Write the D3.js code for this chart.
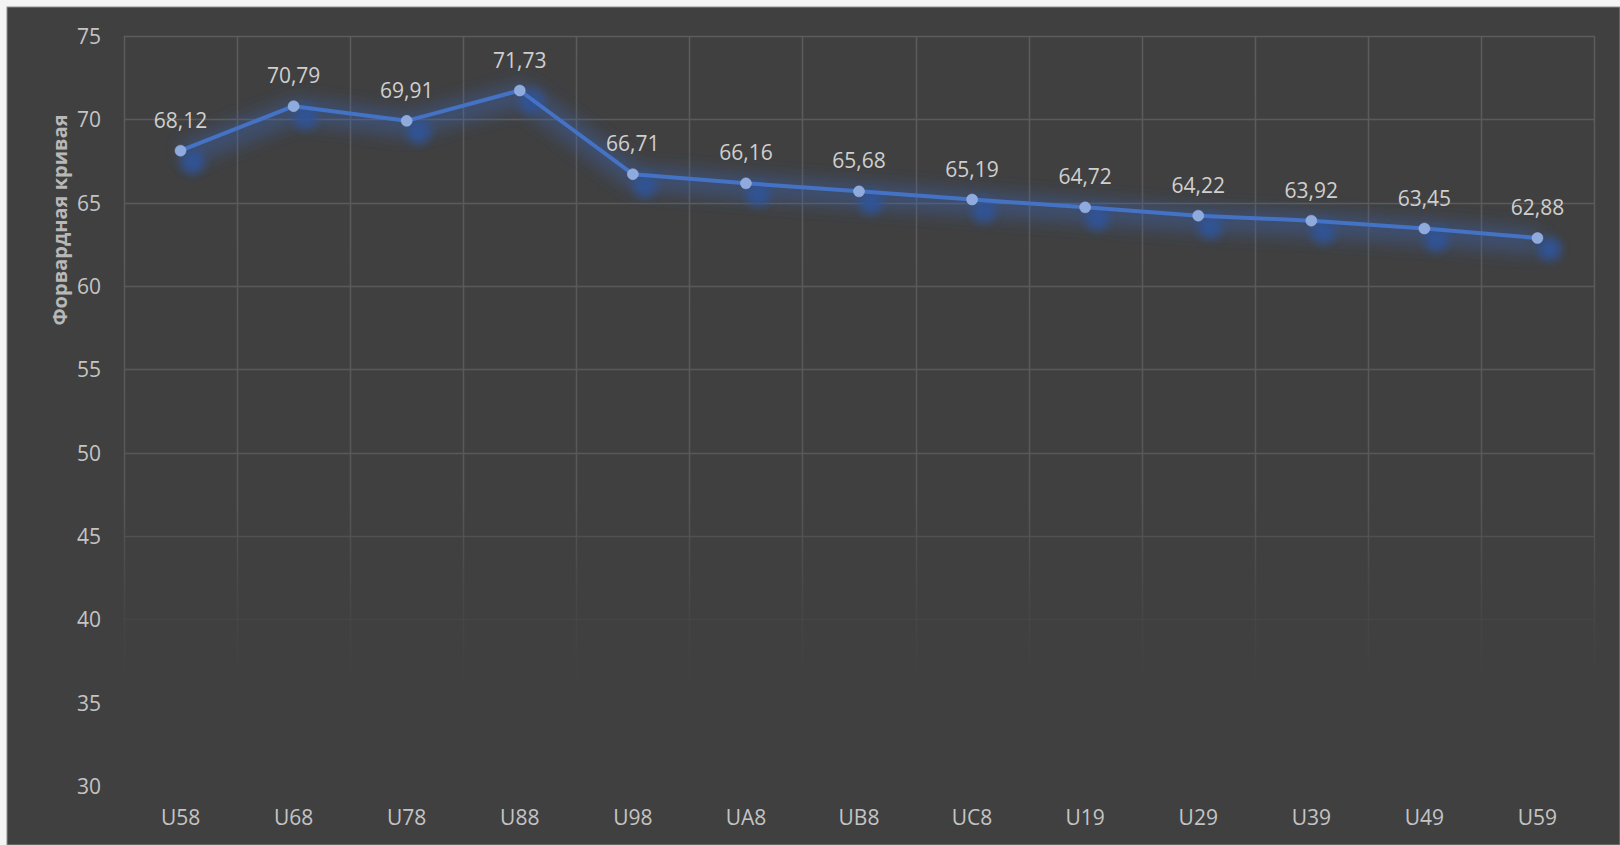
<!DOCTYPE html>
<html>
<head>
<meta charset="utf-8">
<script src="https://cdn.jsdelivr.net/npm/d3@7"></script>
<style>
  html, body { margin: 0; padding: 0; background: #ffffff; }
  svg { display: block; }
</style>
</head>
<body>
<svg id="chart" width="1620" height="845"></svg>
<script>
const categories = ["U58","U68","U78","U88","U98","UA8","UB8","UC8","U19","U29","U39","U49","U59"];
const values = [68.12, 70.79, 69.91, 71.73, 66.71, 66.16, 65.68, 65.19, 64.72, 64.22, 63.92, 63.45, 62.88];
const yTicks = [30, 35, 40, 45, 50, 55, 60, 65, 70, 75];
const yTitle = "Форвардная кривая";

const W = 1620, H = 845;
const plot = { left: 124, right: 1594, top: 36, bottom: 786 };

const svg = d3.select("#chart");
const defs = svg.append("defs");

// background
svg.append("rect").attr("x", 0).attr("y", 0).attr("width", W).attr("height", H).attr("fill", "#f4f4f4");
svg.append("rect").attr("x", 7).attr("y", 7).attr("width", W - 7).attr("height", H - 7)
  .attr("fill", "#404040").attr("stroke", "#8c8c8c").attr("stroke-width", 1);

const x = d3.scaleBand().domain(categories).range([plot.left, plot.right]).padding(0);
const y = d3.scaleLinear().domain([30, 75]).range([plot.bottom, plot.top]);

// grid gradient (fades toward the bottom)
const grad = defs.append("linearGradient").attr("id", "gridGrad")
  .attr("gradientUnits", "userSpaceOnUse")
  .attr("x1", 0).attr("y1", plot.top).attr("x2", 0).attr("y2", plot.bottom);
grad.append("stop").attr("offset", "0").attr("stop-color", "#5c5c5c").attr("stop-opacity", 1);
grad.append("stop").attr("offset", "0.62").attr("stop-color", "#585858").attr("stop-opacity", 1);
grad.append("stop").attr("offset", "0.85").attr("stop-color", "#444444").attr("stop-opacity", 0.3);
grad.append("stop").attr("offset", "0.9").attr("stop-color", "#404040").attr("stop-opacity", 0);
grad.append("stop").attr("offset", "1").attr("stop-color", "#404040").attr("stop-opacity", 0);

const grid = svg.append("g");
grid.selectAll("line.h").data(yTicks).join("line")
  .attr("x1", plot.left).attr("x2", plot.right)
  .attr("y1", d => Math.round(y(d)) + 0.5).attr("y2", d => Math.round(y(d)) + 0.5)
  .attr("stroke", "url(#gridGrad)").attr("stroke-width", 1.5);
const vLines = categories.map(c => x(c)).concat([plot.right]);
grid.selectAll("line.v").data(vLines).join("line")
  .attr("x1", d => Math.round(d) + 0.5).attr("x2", d => Math.round(d) + 0.5)
  .attr("y1", plot.top).attr("y2", plot.bottom)
  .attr("stroke", "url(#gridGrad)").attr("stroke-width", 1.5);

// y axis labels
const yAxis = d3.axisLeft(y).tickValues(yTicks).tickSize(0).tickPadding(0).tickFormat(d3.format("d"));
const yg = svg.append("g").attr("transform", `translate(101,0)`).call(yAxis);
yg.select(".domain").remove();
yg.selectAll("text").attr("fill", "#c4c4c4").attr("font-family", "Open Sans, sans-serif")
  .attr("font-size", 21).attr("dy", "0.36em");

// x axis labels
const xAxis = d3.axisBottom(x).tickSize(0).tickPadding(0);
const xg = svg.append("g").attr("transform", `translate(0,${plot.bottom + 23})`).call(xAxis);
xg.select(".domain").remove();
xg.selectAll("text").attr("fill", "#c4c4c4").attr("font-family", "Open Sans, sans-serif")
  .attr("font-size", 21).attr("dy", "0.75em");

// y title
svg.append("text")
  .attr("transform", `translate(67,${(plot.top + plot.bottom) / 2 - 191}) rotate(-90)`)
  .attr("text-anchor", "middle")
  .attr("fill", "#b8b8b8").attr("font-family", "Open Sans, sans-serif")
  .attr("font-weight", "bold").attr("font-size", 20)
  .text(yTitle);

// filters
const glow = defs.append("filter").attr("id", "glow").attr("x", "-10%").attr("y", "-60%").attr("width", "120%").attr("height", "220%");
glow.append("feGaussianBlur").attr("stdDeviation", 9);

const shadow = defs.append("filter").attr("id", "shadow").attr("x", "-50%").attr("y", "-50%").attr("width", "200%").attr("height", "200%");
shadow.append("feGaussianBlur").attr("stdDeviation", 4);

const data = categories.map((c, i) => ({ c, v: values[i] }));
const cx = d => x(d.c) + x.bandwidth() / 2;
const line = d3.line().x(cx).y(d => y(d.v));

// glow halo
svg.append("path").datum(data).attr("d", line)
  .attr("transform", "translate(3,4)")
  .attr("fill", "none").attr("stroke", "#3a64b8").attr("stroke-width", 22)
  .attr("stroke-opacity", 0.45).attr("stroke-linejoin", "round")
  .attr("filter", "url(#glow)");

// marker shadows
svg.append("g").attr("filter", "url(#shadow)").selectAll("circle").data(data).join("circle")
  .attr("cx", d => cx(d) + 12).attr("cy", d => y(d.v) + 11).attr("r", 12)
  .attr("fill", "#2f5296").attr("fill-opacity", 0.95);

// main line
svg.append("path").datum(data).attr("d", line)
  .attr("fill", "none").attr("stroke", "#4472c4").attr("stroke-width", 4)
  .attr("stroke-linejoin", "round");

// markers
svg.append("g").selectAll("circle").data(data).join("circle")
  .attr("cx", cx).attr("cy", d => y(d.v)).attr("r", 5.5)
  .attr("fill", "#8faadc").attr("stroke", "#9fb8e4").attr("stroke-width", 0.5);

// data labels
const fmt = v => v.toFixed(2).replace(".", ",");
svg.append("g").selectAll("text").data(data).join("text")
  .attr("x", cx).attr("y", d => y(d.v) - 23)
  .attr("text-anchor", "middle")
  .attr("fill", "#cfcfcf").attr("font-family", "Open Sans, sans-serif").attr("font-size", 21)
  .text(d => fmt(d.v));
</script>
</body>
</html>
